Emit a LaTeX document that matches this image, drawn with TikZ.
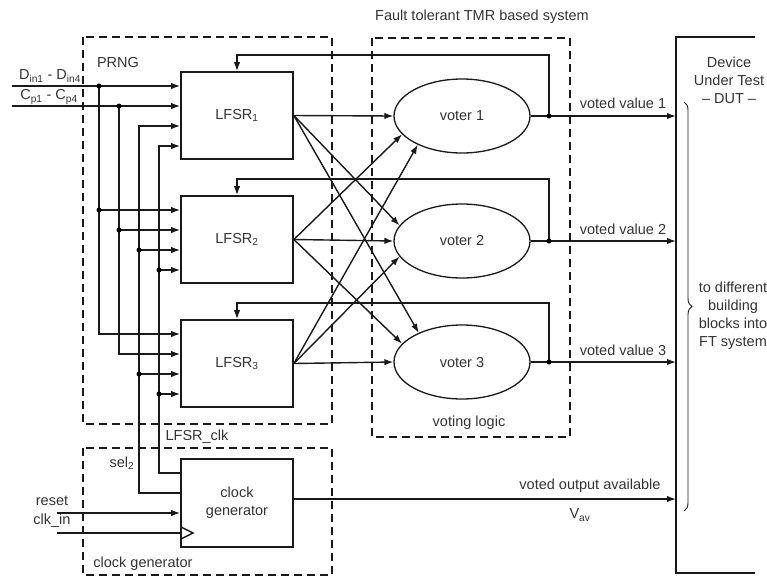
\documentclass[tikz,border=0pt]{standalone}
\usepackage{fontspec}
\setmainfont{Liberation Sans}
\usetikzlibrary{shapes.geometric,arrows.meta,decorations.pathreplacing}
\begin{document}
\begin{tikzpicture}[x=1pt,y=-1pt,
  font=\fontsize{14.5}{18}\selectfont,
  line width=1.4pt, draw=black!90, text=black!80,
  >={Latex[length=9pt,width=6.5pt]},
  blk/.style={draw, line width=1.7pt, minimum width=112pt, minimum height=87pt, inner sep=0pt, align=center},
  vot/.style={draw, ellipse, line width=1.3pt, minimum width=136pt, minimum height=74pt, inner sep=0pt},
  grp/.style={draw, dash pattern=on 8pt off 5pt, line width=1.4pt},
  dot/.style={circle, fill=black, inner sep=0pt, minimum size=5pt},
  lbl/.style={inner sep=0pt}]
\useasboundingbox (0,0) rectangle (767,576);
% group frames
\draw[grp] (83,37) rectangle (332,424);
\draw[grp] (83,448) rectangle (332,575);
\draw[grp] (372,38) rectangle (570,437);
% DUT
\draw[line width=1.7pt] (755,37) -- (676,37) -- (676,573) -- (755,573);
\coordinate (dutL) at (676,37);
% blocks
\node[blk] (L1) at (237,115.5) {LFSR\textsubscript{1}};
\node[blk] (L2) at (237,239.5) {LFSR\textsubscript{2}};
\node[blk] (L3) at (237,363.5) {LFSR\textsubscript{3}};
\node[blk, minimum height=88pt] (CG) at (237,503) {clock\\generator};
\node[vot] (V1) at (462,116) {voter 1};
\node[vot] (V2) at (462,241) {voter 2};
\node[vot] (V3) at (462,362) {voter 3};
% inputs
\coordinate (din) at (12,86);
\coordinate (cp) at (12,106);
\coordinate (rst) at (57,513);
\coordinate (clk) at (57,533);
\draw[->] (din) -- (L1.west |- din);
\draw[->] (cp) -- (L1.west |- cp);
\draw[->] (99,86) |- (L3.west |- 0,334);
\draw[->] (99,210) -- (L2.west |- 0,210);
\draw[->] (119,106) |- (L3.west |- 0,354);
\draw[->] (119,230) -- (L2.west |- 0,230);
\draw[->] (CG.west |- 0,493) -| (139,126) -- (L1.west |- 0,126);
\draw[->] (139,250) -- (L2.west |- 0,250);
\draw[->] (139,374) -- (L3.west |- 0,374);
\draw[->] (CG.west |- 0,473) -| (159,146) -- (L1.west |- 0,146);
\draw[->] (159,270) -- (L2.west |- 0,270);
\draw[->] (159,394) -- (L3.west |- 0,394);
\foreach \p in {(99,86),(99,210),(119,106),(119,230),(139,250),(139,374),(159,270),(159,394)}
  \node[dot] at \p {};
\draw[->] (rst) -- (CG.west |- rst);
\draw (clk) -- (CG.west |- clk);
\draw (181,527) -- (193,533) -- (181,539);
% LFSR -> voters
\draw[->] (L1.east) -- (V1.west);
\draw[->] (L1.east) -- (V2.166);
\draw[->] (L1.east) -- (V3.146);
\draw[->] (L2.east) -- (V1.197);
\draw[->] (L2.east) -- (V2.west);
\draw[->] (L2.east) -- (V3.163);
\draw[->] (L3.east) -- (V1.213);
\draw[->] (L3.east) -- (V2.194);
\draw[->] (L3.east) -- (V3.west);
% voter outputs and feedback
\coordinate (f1) at (V1.east -| 549,0);
\coordinate (f2) at (V2.east -| 549,0);
\coordinate (f3) at (V3.east -| 549,0);
\draw[->] (V1.east) -- (V1.east -| dutL);
\draw[->] (V2.east) -- (V2.east -| dutL);
\draw[->] (V3.east) -- (V3.east -| dutL);
\draw[->] (f1) |- (L1.north |- 0,55) -- (L1.north);
\draw[->] (f2) |- (L2.north |- 0,179) -- (L2.north);
\draw[->] (f3) |- (L3.north |- 0,303) -- (L3.north);
\node[dot] at (f1) {};
\node[dot] at (f2) {};
\node[dot] at (f3) {};
\draw[->] (CG.east |- 0,499) -- (dutL |- 0,499);
% brace
\draw[line width=0.9pt, decorate, decoration={brace, amplitude=8pt}] (684,102) -- (684,511);
% labels
\node[lbl] at (50,76) {D\textsubscript{in1} - D\textsubscript{in4}};
\node[lbl] at (49,97) {C\textsubscript{p1} - C\textsubscript{p4}};
\node[lbl] at (118,63) {PRNG};
\node[lbl] at (197,437) {LFSR\_clk};
\node[lbl] at (122,463) {sel\textsubscript{2}};
\node[lbl] at (52,501) {reset};
\node[lbl] at (52,521) {clk\_in};
\node[lbl] at (143,564) {clock generator};
\node[lbl] at (482,17) {Fault tolerant TMR based system};
\node[lbl] at (469,423) {voting logic};
\node[lbl] at (623,103) {voted value 1};
\node[lbl] at (623,229) {voted value 2};
\node[lbl] at (623,350) {voted value 3};
\node[lbl] at (590,486) {voted output available};
\node[lbl] at (580,515) {V\textsubscript{av}};
\node[lbl, align=center] at (729,80) {Device\\Under Test\\-- DUT --};
\node[lbl, align=center] at (733,316) {to different\\building\\blocks into\\FT system};
\end{tikzpicture}
\end{document}
